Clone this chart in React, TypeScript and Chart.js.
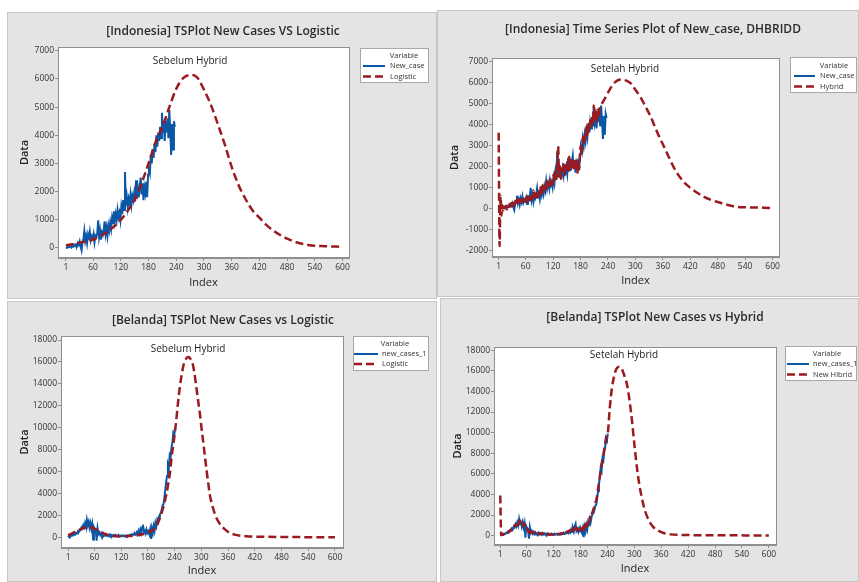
import React, { useEffect, useRef } from "react";
import { Chart, registerables } from "chart.js";
Chart.register(...registerables);

const FONT = "'Open Sans', 'Noto Sans', 'DejaVu Sans', sans-serif";
const BLUE = "#0b57a6";
const RED = "#9a1a1f";
const PANEL_BG = "#e4e4e4";

// ---------- tick labels ----------
const indexTicks = [1, 60, 120, 180, 240, 300, 360, 420, 480, 540, 600];
const idnTicks = [0, 1000, 2000, 3000, 4000, 5000, 6000, 7000];
const idnHybridTicks = [-2000, -1000, 0, 1000, 2000, 3000, 4000, 5000, 6000, 7000];
const nldTicks = [0, 2000, 4000, 6000, 8000, 10000, 12000, 14000, 16000, 18000];

// ---------- Indonesia ----------
// New_case, read at odd indices 1,3,5,...,237
const idnNewCase = [
  2, 10, 30, 20, 40, 60, 20, 80, 50, 110, 70, 130, 90, 180, 110, 230, 60, -80, 210, 320,
  600, 250, 420, 180, 470, 300, 560, 280, 420, 350, 500, 200, 430, 380, 520, 980, 400, 620, 300, 560,
  470, 650, 950, 500, 720, 440, 800, 620, 900, 680, 1050, 850, 1300, 950, 1200, 1000, 1350, 1100, 1250, 1000,
  1450, 1200, 1700, 1350, 2700, 1500, 1800, 1450, 1750, 1600, 1900, 1550, 1850, 1700, 1950, 1650, 2400, 1750, 2100, 1800,
  2200, 2500, 1900, 2300, 1700, 2150, 1950, 2350, 1800, 2600, 2900, 2700, 3300, 3000, 3500, 3200, 3700, 3400, 4000, 3600,
  4100, 3800, 4300, 3900, 4800, 4100, 4400, 3800, 4500, 4100, 4600, 3900, 4900, 4200, 3300, 4400, 3500, 4500, 4300,
];
const idnLogisticIndex = [
  1, 15, 30, 45, 60, 75, 90, 105, 120, 135, 150, 165, 180, 195, 210, 225, 240, 255, 270, 285, 300,
  315, 330, 345, 360, 375, 390, 405, 420, 435, 450, 465, 480, 495, 510, 525, 540, 555, 570, 585, 600,
];
const idnLogistic = [
  90, 130, 180, 240, 300, 420, 570, 760, 1000, 1320, 1720, 2300, 3000, 3750, 4300, 5000, 5650, 6030, 6140, 6060, 5620,
  5080, 4400, 3680, 2880, 2230, 1740, 1340, 1080, 820, 620, 460, 330, 230, 160, 110, 80, 70, 60, 50, 30,
];
// Hybrid (DHBRIDD), noisy part read at odd indices 1..221
const idnHybridHead = [
  3600, -1800, 600, -350, 150, -100, 80, 20, 120, -50, 150, 60, 200, 40, 250, 100, 300, 120, 350, 200,
  420, 250, 380, 230, 450, 300, 500, 260, 430, 330, 520, 300, 580, 400, 650, 380, 700, 450, 850, 480,
  700, 520, 800, 560, 900, 600, 1000, 700, 1100, 750, 1200, 900, 1300, 1000, 1250, 1050, 1400, 1100, 1350, 1150,
  1600, 1300, 1800, 1400, 1900, 2950, 1500, 2000, 1400, 1900, 1650, 2100, 1600, 2050, 1750, 2200, 1800, 2450, 1850, 2300,
  1900, 2400, 1800, 2250, 2000, 2350, 1650, 2200, 1900, 2700, 3000, 2600, 3400, 3100, 3600, 3300, 3900, 3500, 4000, 3700,
  4200, 3900, 4400, 4000, 4900, 4200, 4600, 4100, 4700, 4300, 4700,
];
const idnHybridTailIndex = [
  226, 235, 245, 255, 267, 280, 290, 300, 311, 322, 333, 347, 360, 369, 387, 405, 420, 435, 450, 465,
  478, 495, 510, 522, 540, 560, 580, 600,
];
const idnHybridTail = [
  4950, 5300, 5700, 6000, 6140, 6080, 5950, 5650, 5300, 4850, 4380, 3660, 3050, 2630, 1830, 1270, 980, 740, 540, 400,
  310, 200, 120, 70, 50, 40, 30, 10,
];

// ---------- Belanda ----------
// new_cases_1, read at odd indices 1..241
const nldNewCases = [
  0, 100, 50, 150, 120, 200, 180, 300, 250, 400, 350, 550, 500, 700, 650, 900, 800, 1100, 900, 1300,
  1000, 1600, 1100, 1400, 900, 1300, 800, 1200, -200, 900, 700, 600, -300, 800, 300, 450, 200, 350, 150, 300,
  120, 250, 150, 280, 130, 220, 100, 250, 120, 200, 90, 180, 100, 220, 120, 160, 80, 180, 100, 150,
  90, 170, 110, 140, 80, 160, 100, 180, 120, 200, 150, 250, 180, 300, 220, 350, 250, 450, 300, 600,
  350, 700, 400, 900, 1150, 450, 600, 350, 700, 400, 550, 300, 700, -150, 800, 400, 1000, 600, 1300, 1000,
  1600, 1400, 1900, 2100, 2200, 2500, 2900, 3000, 3600, 4300, 5000, 5600, 6600, 6300, 7500, 7300, 8200, 8600, 9500, 9300,
  9900,
];
const nldLogisticIndex = [
  1, 10, 20, 30, 42, 50, 57, 65, 72, 80, 87, 95, 105, 120, 135, 150, 165, 177, 185, 192,
  200, 207, 213, 218, 222, 226, 230, 233, 237, 241, 245, 248, 252, 256, 260, 264, 268, 272, 276, 280,
  284, 289, 293, 297, 300, 304, 308, 312, 316, 319, 324, 331, 338, 346, 355, 364, 375, 387, 400, 420,
  450, 500, 550, 600,
];
const nldLogistic = [
  180, 350, 550, 750, 910, 920, 850, 700, 550, 380, 240, 160, 120, 100, 110, 150, 250, 390, 520, 690,
  1100, 1760, 2500, 3290, 4000, 4960, 6000, 7240, 8400, 9680, 11200, 12420, 13800, 14850, 15700, 16150, 16400, 16440, 16250, 15920,
  15100, 13630, 12400, 11200, 10100, 8770, 7400, 6030, 4800, 3890, 3000, 2060, 1450, 1000, 650, 390, 240, 150, 100, 60,
  40, 20, 10, 5,
];
// New Hibrid, noisy part read at odd indices 1..239
const nldHybridHead = [
  3900, 50, 100, 80, 180, 150, 250, 200, 350, 300, 450, 420, 600, 550, 800, 750, 1000, 900, 1150, 1000,
  1300, 1100, 1500, 1200, 1100, 1300, 900, 1100, 800, 900, 700, 500, 300, 600, 250, 400, 300, 250, 350, 200,
  300, 180, 260, 160, 240, 150, 230, 140, 200, 120, 180, 110, 160, 100, 150, 90, 140, 100, 130, 90,
  150, 100, 160, 110, 170, 120, 180, 140, 220, 160, 260, 200, 320, 250, 380, 300, 450, 380, 550, 450,
  700, 500, 800, 600, 900, 550, 750, 500, 650, 450, 700, 500, 800, 400, 1000, 700, 1200, 900, 1500, 1300,
  1800, 1700, 2100, 2300, 2600, 2800, 3200, 3400, 3900, 4500, 5100, 5700, 6400, 6800, 7600, 7900, 8400, 8900, 9500, 9800,
];
const nldHybridTailIndex = [
  241, 245, 250, 255, 260, 267, 272, 278, 284, 290, 295, 300, 306, 311, 317, 324, 332, 341, 351, 365,
  380, 400, 450, 500, 550, 600,
];
const nldHybridTail = [
  10000, 12300, 14300, 15500, 16200, 16400, 16200, 15500, 14600, 12900, 11070, 8900, 6530, 5000, 3620, 2400, 1510, 900, 540, 250,
  120, 70, 40, 30, 20, 10,
];

// ---------- helpers ----------
const oddPts = (vals: number[]) => vals.map((v, i) => ({ x: 1 + 2 * i, y: v }));
const zipPts = (idx: number[], vals: number[]) => idx.map((x, i) => ({ x, y: vals[i] }));

type Series = { label: string; pts: { x: number; y: number }[]; kind: "solid" | "dash" };

type PanelCfg = {
  box: [number, number, number, number]; // l, t, w, h
  plot: [number, number, number, number]; // l, t, r, b
  dataX: number;
  indexY: number;
  xMin: number;
  xMax: number;
  yMin: number;
  yMax: number;
  yTicks: number[];
  title: string;
  titleX: number;
  titleY: number;
  sub: string;
  subX: number;
  subY: number;
  legend: { l: number; t: number; r: number; b: number; varX: number; varY: number; x1: number; x2: number; tx: number; y1: number; y2: number };
  series: Series[];
};

const panels: PanelCfg[] = [
  {
    box: [7, 12, 430, 287],
    plot: [58, 47, 349, 258],
    dataX: 25,
    indexY: 283,
    xMin: -16,
    xMax: 614,
    yMin: -355,
    yMax: 7135,
    yTicks: idnTicks,
    title: "[Indonesia] TSPlot New Cases VS Logistic",
    titleX: 223,
    titleY: 32,
    sub: "Sebelum Hybrid",
    subX: 190,
    subY: 61,
    legend: { l: 360, t: 48, r: 429, b: 83, varX: 404, varY: 56, x1: 363, x2: 385, tx: 390, y1: 66, y2: 76.5 },
    series: [
      { label: "New_case", pts: oddPts(idnNewCase), kind: "solid" },
      { label: "Logistic", pts: zipPts(idnLogisticIndex, idnLogistic), kind: "dash" },
    ],
  },
  {
    box: [437, 10, 422, 287],
    plot: [492, 58, 779, 257],
    dataX: 455,
    indexY: 281,
    xMin: -13.6,
    xMax: 614,
    yMin: -2320,
    yMax: 7160,
    yTicks: idnHybridTicks,
    title: "[Indonesia] Time Series Plot of New_case, DHBRIDD",
    titleX: 653,
    titleY: 30,
    sub: "Setelah Hybrid",
    subX: 625,
    subY: 69,
    legend: { l: 790, t: 57, r: 857, b: 93, varX: 834, varY: 66, x1: 794, x2: 815, tx: 820, y1: 76, y2: 86.5 },
    series: [
      { label: "New_case", pts: oddPts(idnNewCase), kind: "solid" },
      { label: "Hybrid", pts: [...oddPts(idnHybridHead), ...zipPts(idnHybridTailIndex, idnHybridTail)], kind: "dash" },
    ],
  },
  {
    box: [7, 301, 430, 281],
    plot: [61, 336, 343, 548],
    dataX: 25,
    indexY: 571,
    xMin: -15,
    xMax: 618,
    yMin: -978,
    yMax: 18365,
    yTicks: nldTicks,
    title: "[Belanda] TSPlot New Cases vs Logistic",
    titleX: 223,
    titleY: 321,
    sub: "Sebelum Hybrid",
    subX: 188,
    subY: 349,
    legend: { l: 353, t: 336, r: 429, b: 371, varX: 395, varY: 344, x1: 354, x2: 378, tx: 382, y1: 354, y2: 364 },
    series: [
      { label: "new_cases_1", pts: oddPts(nldNewCases), kind: "solid" },
      { label: "Logistic", pts: zipPts(nldLogisticIndex, nldLogistic), kind: "dash" },
    ],
  },
  {
    box: [440, 298, 419, 284],
    plot: [494, 347, 776, 545],
    dataX: 458,
    indexY: 569,
    xMin: -13,
    xMax: 616,
    yMin: -913,
    yMax: 18320,
    yTicks: nldTicks,
    title: "[Belanda] TSPlot New Cases vs Hybrid",
    titleX: 655,
    titleY: 318,
    sub: "Setelah Hybrid",
    subX: 624,
    subY: 355,
    legend: { l: 785, t: 346, r: 857, b: 381, varX: 827, varY: 354, x1: 787, x2: 809, tx: 813, y1: 364, y2: 374.5 },
    series: [
      { label: "new_cases_1", pts: oddPts(nldNewCases), kind: "solid" },
      { label: "New Hibrid", pts: [...oddPts(nldHybridHead), ...zipPts(nldHybridTailIndex, nldHybridTail)], kind: "dash" },
    ],
  },
];

const AXIS_TITLE_SIZE = 11;
const LH = AXIS_TITLE_SIZE * 1.2;
const FRAME = "#8f8f8f";

function Panel({ cfg }: { cfg: PanelCfg }) {
  const ref = useRef<HTMLCanvasElement | null>(null);
  const [bl, bt, bw, bh] = cfg.box;
  const [pl, pt, pr, pb] = cfg.plot;

  useEffect(() => {
    if (!ref.current) return;
    const padL = cfg.dataX - bl - LH / 2;
    const yW = pl - bl - padL;
    const padT = pt - bt;
    const padR = bl + bw - pr;
    const padB = bt + bh - cfg.indexY - LH / 2;
    const xH = bt + bh - padB - pb;

    const deco = {
      id: "deco",
      beforeDraw(chart: any) {
        const { ctx, chartArea: a } = chart;
        ctx.save();
        ctx.fillStyle = "#ffffff";
        ctx.fillRect(a.left, a.top, a.right - a.left, a.bottom - a.top);
        ctx.restore();
      },
      afterDraw(chart: any) {
        const { ctx, chartArea: a } = chart;
        ctx.save();
        ctx.strokeStyle = FRAME;
        ctx.lineWidth = 1;
        ctx.strokeRect(Math.round(a.left) + 0.5, Math.round(a.top) + 0.5, Math.round(a.right - a.left), Math.round(a.bottom - a.top));
        // title
        ctx.fillStyle = "#2b2b2b";
        ctx.textAlign = "center";
        ctx.textBaseline = "middle";
        ctx.font = `600 12px ${FONT}`;
        ctx.fillText(cfg.title, cfg.titleX - bl, cfg.titleY - bt);
        ctx.font = `10px ${FONT}`;
        ctx.fillStyle = "#1e1e1e";
        ctx.fillText(cfg.sub, cfg.subX - bl, cfg.subY - bt);
        // legend
        const L = cfg.legend;
        ctx.fillStyle = "#ffffff";
        ctx.fillRect(L.l - bl, L.t - bt, L.r - L.l, L.b - L.t);
        ctx.strokeStyle = "#a8a8a8";
        ctx.strokeRect(L.l - bl + 0.5, L.t - bt + 0.5, L.r - L.l - 1, L.b - L.t - 1);
        ctx.font = `7.5px ${FONT}`;
        ctx.fillStyle = "#333";
        ctx.textAlign = "center";
        ctx.fillText("Variable", L.varX - bl, L.varY - bt);
        ctx.textAlign = "left";
        const ys = [L.y1, L.y2];
        cfg.series.forEach((s, i) => {
          const y = ys[i] - bt;
          ctx.beginPath();
          ctx.lineWidth = s.kind === "dash" ? 2.5 : 2;
          ctx.strokeStyle = s.kind === "dash" ? RED : BLUE;
          ctx.setLineDash(s.kind === "dash" ? [8, 4] : []);
          ctx.moveTo(L.x1 - bl, y);
          ctx.lineTo(L.x2 - bl, y);
          ctx.stroke();
          ctx.setLineDash([]);
          ctx.fillStyle = "#333";
          ctx.fillText(s.label, L.tx - bl, y);
        });
        ctx.restore();
      },
    };

    const datasets = cfg.series.map((s) =>
      s.kind === "dash"
        ? {
            label: s.label,
            data: s.pts,
            borderColor: RED,
            backgroundColor: RED,
            borderWidth: 2.5,
            borderDash: [8, 4],
            cubicInterpolationMode: "monotone" as const,
            order: 0,
          }
        : {
            label: s.label,
            data: s.pts,
            borderColor: BLUE,
            backgroundColor: BLUE,
            borderWidth: 2,
            tension: 0,
            order: 1,
          }
    );

    const chart = new Chart(ref.current, {
      type: "line",
      data: { datasets: datasets as any },
      plugins: [deco as any],
      options: {
        animation: false,
        responsive: false,
        devicePixelRatio: 1,
        events: [],
        layout: { padding: { left: padL, top: padT, right: padR, bottom: padB } },
        elements: { point: { radius: 0 }, line: { fill: false } },
        plugins: { legend: { display: false }, tooltip: { enabled: false }, title: { display: false } },
        scales: {
          x: {
            type: "linear",
            min: cfg.xMin,
            max: cfg.xMax,
            afterBuildTicks: (s: any) => {
              s.ticks = indexTicks.map((v) => ({ value: v }));
            },
            afterFit: (s: any) => {
              s.height = xH;
            },
            ticks: {
              autoSkip: false,
              maxRotation: 0,
              padding: 1,
              color: "#333",
              font: { family: FONT, size: 8.5 },
              callback: (v: any) => String(v),
            },
            grid: { drawOnChartArea: false, drawTicks: true, tickLength: 3, color: FRAME },
            border: { display: true, color: FRAME },
            title: {
              display: true,
              text: "Index",
              color: "#222",
              font: { family: FONT, size: AXIS_TITLE_SIZE },
              padding: { top: 0, bottom: 0 },
            },
          },
          y: {
            type: "linear",
            min: cfg.yMin,
            max: cfg.yMax,
            afterBuildTicks: (s: any) => {
              s.ticks = cfg.yTicks.map((v) => ({ value: v }));
            },
            afterFit: (s: any) => {
              s.width = yW;
            },
            ticks: {
              autoSkip: false,
              padding: 1,
              color: "#333",
              font: { family: FONT, size: 8.5 },
              callback: (v: any) => String(v),
            },
            grid: { drawOnChartArea: false, drawTicks: true, tickLength: 3, color: FRAME },
            border: { display: true, color: FRAME },
            title: {
              display: true,
              text: "Data",
              color: "#222",
              font: { family: FONT, size: AXIS_TITLE_SIZE, weight: "600" },
              padding: { top: 0, bottom: 0 },
            },
          },
        },
      },
    });
    return () => chart.destroy();
  }, []);

  return (
    <>
      <div
        style={{
          position: "absolute",
          left: bl,
          top: bt,
          width: bw,
          height: bh,
          background: PANEL_BG,
          boxSizing: "border-box",
          border: "1px solid #c6c6c6",
        }}
      />
      <canvas
        ref={ref}
        width={bw}
        height={bh}
        style={{ position: "absolute", left: bl, top: bt, width: bw, height: bh, display: "block" }}
      />
    </>
  );
}

export default function App() {
  return (
    <div
      style={{
        position: "absolute",
        left: 0,
        top: 0,
        width: 859,
        height: 582,
        background: "#ffffff",
        overflow: "hidden",
        fontFamily: FONT,
      }}
    >
      {panels.map((p, i) => (
        <Panel key={i} cfg={p} />
      ))}
    </div>
  );
}
